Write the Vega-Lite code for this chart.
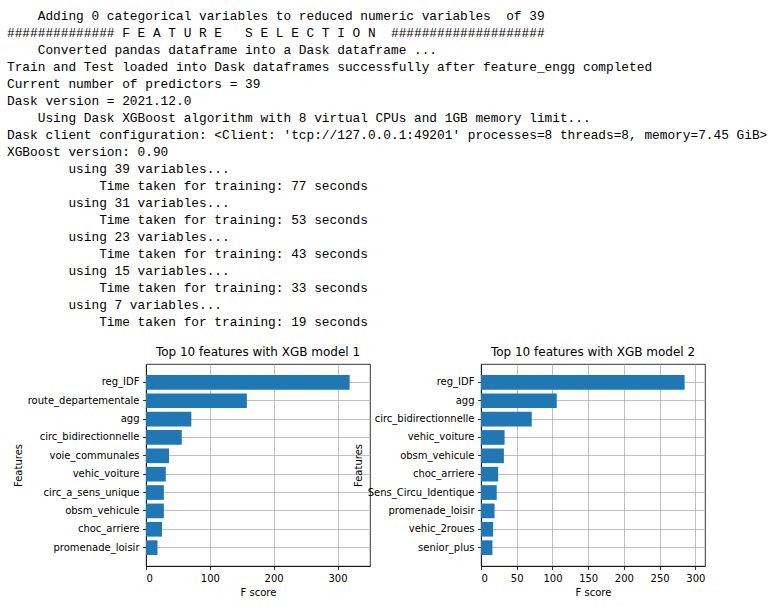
{
  "$schema": "https://vega.github.io/schema/vega-lite/v6.json",
  "padding": {"left": 7, "top": 10, "right": 4, "bottom": 4},
  "background": "white",
  "bounds": "flush",
  "spacing": 42,
  "datasets": {
    "log": [
      {"line": 0, "text": "\u200b\u00a0\u00a0\u00a0\u00a0Adding 0 categorical variables to reduced numeric variables\u00a0\u00a0of 39"},
      {"line": 1, "text": "##############\u00a0F\u00a0E\u00a0A\u00a0T\u00a0U\u00a0R\u00a0E\u00a0\u00a0\u00a0S\u00a0E\u00a0L\u00a0E\u00a0C\u00a0T\u00a0I\u00a0O\u00a0N\u00a0\u00a0####################"},
      {"line": 2, "text": "\u200b\u00a0\u00a0\u00a0\u00a0Converted pandas dataframe into a Dask dataframe ..."},
      {"line": 3, "text": "Train and Test loaded into Dask dataframes successfully after feature_engg completed"},
      {"line": 4, "text": "Current number of predictors = 39"},
      {"line": 5, "text": "Dask version = 2021.12.0"},
      {"line": 6, "text": "\u200b\u00a0\u00a0\u00a0\u00a0Using Dask XGBoost algorithm with 8 virtual CPUs and 1GB memory limit..."},
      {"line": 7, "text": "Dask client configuration: <Client: 'tcp://127.0.0.1:49201' processes=8 threads=8, memory=7.45 GiB>"},
      {"line": 8, "text": "XGBoost version: 0.90"},
      {"line": 9, "text": "\u200b\u00a0\u00a0\u00a0\u00a0\u00a0\u00a0\u00a0\u00a0using 39 variables..."},
      {"line": 10, "text": "\u200b\u00a0\u00a0\u00a0\u00a0\u00a0\u00a0\u00a0\u00a0\u00a0\u00a0\u00a0\u00a0Time taken for training: 77 seconds"},
      {"line": 11, "text": "\u200b\u00a0\u00a0\u00a0\u00a0\u00a0\u00a0\u00a0\u00a0using 31 variables..."},
      {"line": 12, "text": "\u200b\u00a0\u00a0\u00a0\u00a0\u00a0\u00a0\u00a0\u00a0\u00a0\u00a0\u00a0\u00a0Time taken for training: 53 seconds"},
      {"line": 13, "text": "\u200b\u00a0\u00a0\u00a0\u00a0\u00a0\u00a0\u00a0\u00a0using 23 variables..."},
      {"line": 14, "text": "\u200b\u00a0\u00a0\u00a0\u00a0\u00a0\u00a0\u00a0\u00a0\u00a0\u00a0\u00a0\u00a0Time taken for training: 43 seconds"},
      {"line": 15, "text": "\u200b\u00a0\u00a0\u00a0\u00a0\u00a0\u00a0\u00a0\u00a0using 15 variables..."},
      {"line": 16, "text": "\u200b\u00a0\u00a0\u00a0\u00a0\u00a0\u00a0\u00a0\u00a0\u00a0\u00a0\u00a0\u00a0Time taken for training: 33 seconds"},
      {"line": 17, "text": "\u200b\u00a0\u00a0\u00a0\u00a0\u00a0\u00a0\u00a0\u00a0using 7 variables..."},
      {"line": 18, "text": "\u200b\u00a0\u00a0\u00a0\u00a0\u00a0\u00a0\u00a0\u00a0\u00a0\u00a0\u00a0\u00a0Time taken for training: 19 seconds"}
    ],
    "m1": [
      {"feature": "reg_IDF", "score": 319},
      {"feature": "route_departementale", "score": 158},
      {"feature": "agg", "score": 71},
      {"feature": "circ_bidirectionnelle", "score": 56},
      {"feature": "voie_communales", "score": 36},
      {"feature": "vehic_voiture", "score": 31},
      {"feature": "circ_a_sens_unique", "score": 28},
      {"feature": "obsm_vehicule", "score": 28},
      {"feature": "choc_arriere", "score": 25},
      {"feature": "promenade_loisir", "score": 18}
    ],
    "m2": [
      {"feature": "reg_IDF", "score": 285},
      {"feature": "agg", "score": 106},
      {"feature": "circ_bidirectionnelle", "score": 71},
      {"feature": "vehic_voiture", "score": 33},
      {"feature": "obsm_vehicule", "score": 32},
      {"feature": "choc_arriere", "score": 24},
      {"feature": "Sens_Circu_Identique", "score": 22},
      {"feature": "promenade_loisir", "score": 19},
      {"feature": "vehic_2roues", "score": 17},
      {"feature": "senior_plus", "score": 16}
    ]
  },
  "config": {
    "font": "DejaVu Sans",
    "axis": {
      "labelFont": "DejaVu Sans", "labelFontSize": 10, "labelColor": "#000",
      "titleFont": "DejaVu Sans", "titleFontSize": 10, "titleFontWeight": "normal", "titleColor": "#000",
      "tickColor": "#000", "tickSize": 3.5, "tickWidth": 0.8,
      "domain": true, "domainColor": "#000", "domainWidth": 0.8,
      "grid": true, "gridColor": "#b0b0b0", "gridWidth": 0.8, "gridOpacity": 1,
      "labelPadding": 3.5, "titlePadding": 4, "zindex": 1
    },
    "title": {"font": "DejaVu Sans", "fontSize": 12, "fontWeight": "normal", "color": "#000", "offset": 5},
    "view": {"stroke": "#000", "strokeWidth": 0.8}
  },
  "vconcat": [
    {
      "width": 224,
      "height": 306,
      "view": {"stroke": null},
      "data": {"name": "log"},
      "mark": {"type": "text", "align": "left", "baseline": "middle", "font": "Liberation Mono", "fontSize": 12.8, "color": "#000", "dx": -139},
      "encoding": {
        "y": {"field": "line", "type": "quantitative", "scale": {"domain": [0, 18], "reverse": true, "nice": false, "zero": false}, "axis": null},
        "x": {"value": 0},
        "text": {"field": "text", "type": "nominal"}
      }
    },
    {
      "bounds": "flush",
      "spacing": 111,
      "hconcat": [
        {
          "width": 224,
          "height": 202,
          "title": "Top 10 features with XGB model 1",
          "data": {"name": "m1"},
          "mark": {"type": "bar", "color": "#1f77b4"},
          "encoding": {
            "y": {"field": "feature", "type": "nominal", "sort": null, "scale": {"paddingInner": 0.2, "paddingOuter": 0.6}, "axis": {"title": "Features", "bandPosition": 0.5}},
            "x": {"field": "score", "type": "quantitative", "scale": {"domain": [0, 350.9], "nice": false}, "axis": {"title": "F score", "values": [0, 100, 200, 300]}}
          }
        },
        {
          "width": 224,
          "height": 202,
          "title": "Top 10 features with XGB model 2",
          "data": {"name": "m2"},
          "mark": {"type": "bar", "color": "#1f77b4"},
          "encoding": {
            "y": {"field": "feature", "type": "nominal", "sort": null, "scale": {"paddingInner": 0.2, "paddingOuter": 0.6}, "axis": {"title": "Features", "bandPosition": 0.5}},
            "x": {"field": "score", "type": "quantitative", "scale": {"domain": [0, 313.5], "nice": false}, "axis": {"title": "F score", "values": [0, 50, 100, 150, 200, 250, 300]}}
          }
        }
      ]
    }
  ]
}
